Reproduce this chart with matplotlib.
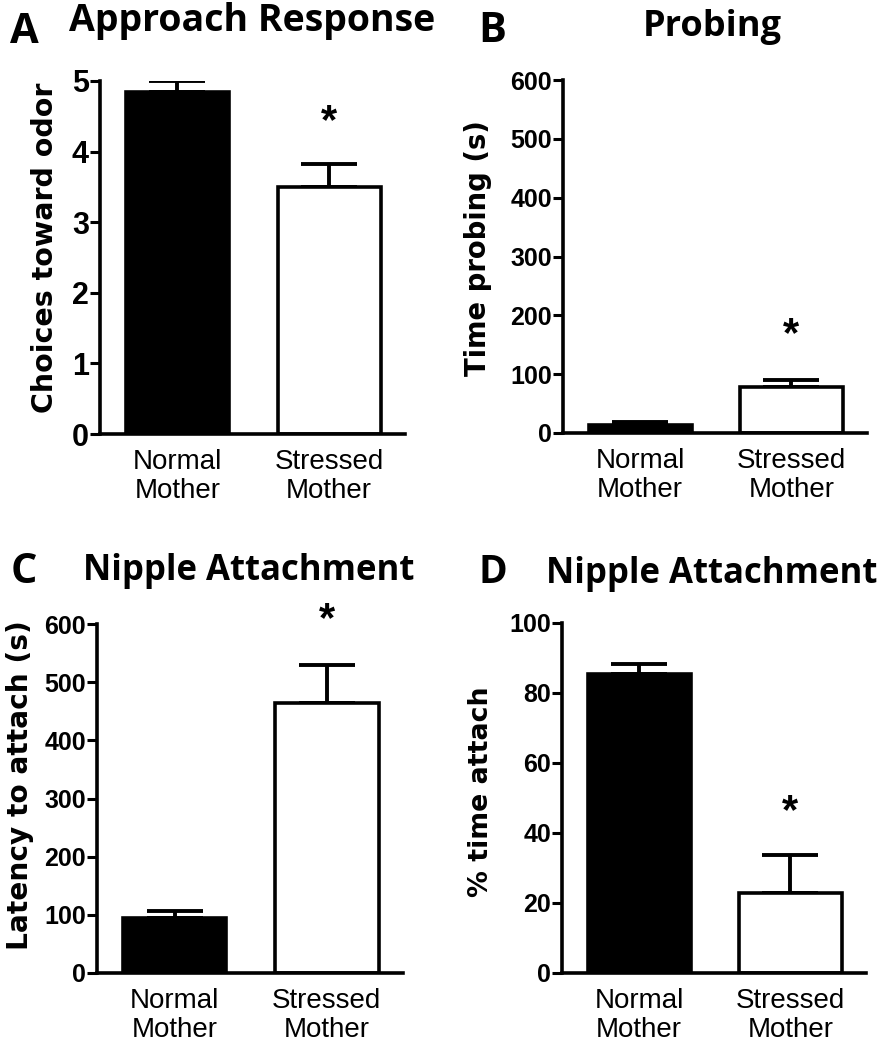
import matplotlib
matplotlib.use("Agg")
import matplotlib.pyplot as plt

W, H = 881, 1050

groups = ["Normal\nMother", "Stressed\nMother"]

approach_mean = [4.84, 3.50]
approach_sem = [0.16, 0.33]
approach_star = 4.42

probing_mean = [13, 79]
probing_sem = [6, 11]
probing_star = 166

latency_mean = [94, 465]
latency_sem = [12, 65]
latency_star = 607

attach_mean = [85.5, 22.9]
attach_sem = [2.8, 10.8]
attach_star = 46

fig = plt.figure(figsize=(W / 100, H / 100), dpi=100)


def px(x0, y0, x1, y1):
    # pixel box (left, top, right, bottom) -> figure fraction rect
    return [x0 / W, 1 - y1 / H, (x1 - x0) / W, (y1 - y0) / H]


def panel(rect, means, sems, star, ymax, step, ticksize):
    ax = fig.add_axes(rect)
    x = [0, 1]
    ax.bar(x, means, width=0.68, color=["black", "white"], edgecolor="black",
           linewidth=2.6, zorder=2)
    ax.errorbar(x, means, yerr=[[0, 0], sems], fmt="none", ecolor="black",
                elinewidth=2.8, capsize=20, capthick=2.8, zorder=1)
    ax.text(1, star, "*", ha="center", va="center", fontsize=30,
            fontweight="bold", family="Liberation Sans")
    ax.set_xlim(-0.51, 1.5)
    ax.set_ylim(0, ymax)
    ax.set_yticks(range(0, ymax + 1, step))
    ax.set_xticks(x)
    ax.set_xticklabels(groups, fontsize=20, family="Liberation Sans", linespacing=1.15)
    for t in ax.get_yticklabels():
        t.set_fontsize(ticksize)
        t.set_fontweight("bold")
        t.set_family("Liberation Sans")
    ax.spines["top"].set_visible(False)
    ax.spines["right"].set_visible(False)
    ax.spines["left"].set_linewidth(2.6)
    ax.spines["bottom"].set_linewidth(2.6)
    ax.tick_params(axis="y", length=7, width=2.2, pad=1)
    ax.tick_params(axis="x", length=0, pad=11)
    return ax


panel(px(100, 81, 405, 434), approach_mean, approach_sem, approach_star, 5, 1, 22)
panel(px(563, 80, 867, 433), probing_mean, probing_sem, probing_star, 600, 100, 18)
panel(px(97, 624, 403, 973), latency_mean, latency_sem, latency_star, 600, 100, 18)
panel(px(562, 623, 866, 973), attach_mean, attach_sem, attach_star, 100, 20, 18)


def ftext(x, y, s, **kw):
    fig.text(x / W, 1 - y / H, s, **kw)


title_kw = dict(family="Open Sans", fontweight="bold", ha="center", va="baseline")
ftext(24, 43, "A", fontsize=30, **title_kw)
ftext(252, 31, "Approach Response", fontsize=27, **title_kw)
ftext(492, 42, "B", fontsize=30, **title_kw)
ftext(712, 36, "Probing", fontsize=26, **title_kw)
ftext(24, 583, "C", fontsize=30, **title_kw)
ftext(249, 580, "Nipple Attachment", fontsize=25, **title_kw)
ftext(493, 583, "D", fontsize=28, **title_kw)
ftext(712, 583, "Nipple Attachment", fontsize=25, **title_kw)

ylab_kw = dict(family="DejaVu Sans", fontweight="bold", rotation=90,
               ha="center", va="center")
ftext(45, 248, "Choices toward odor", fontsize=20.5, **ylab_kw)
ftext(478, 248, "Time probing (s)", fontsize=19.8, **ylab_kw)
ftext(20, 785, "Latency to attach (s)", fontsize=20.2, **ylab_kw)
ftext(481, 792, "% time attach", fontsize=19.3, **ylab_kw)

fig.savefig("out.png", dpi=100)
